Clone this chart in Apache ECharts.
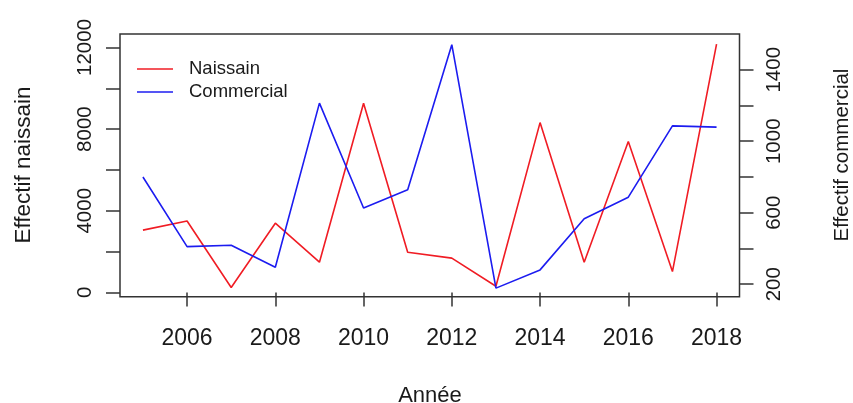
<!DOCTYPE html>
<html>
<head>
<meta charset="utf-8">
<script src="https://cdn.jsdelivr.net/npm/echarts@6/dist/echarts.min.js"></script>
<style>
  html, body { margin: 0; padding: 0; background: #fff; }
  #chart { width: 853px; height: 403px; }
</style>
</head>
<body>
<div id="chart"></div>
<script>
// Years and the two yearly counts
const years = [2005, 2006, 2007, 2008, 2009, 2010, 2011, 2012, 2013, 2014, 2015, 2016, 2017, 2018];
const naissain = [3050, 3500, 240, 3390, 1480, 9270, 1970, 1680, 300, 8320, 1480, 7390, 1020, 12160];
const commercial = [800, 410, 418, 295, 1213, 626, 728, 1540, 178, 280, 566, 687, 1086, 1079];

// Tick positions and labelled values
const xTicks = [2006, 2008, 2010, 2012, 2014, 2016, 2018];
const leftTicks = [0, 2000, 4000, 6000, 8000, 10000, 12000];
const leftLabels = [0, 4000, 8000, 12000];
const rightTicks = [200, 400, 600, 800, 1000, 1200, 1400];
const rightLabels = [200, 600, 1000, 1400];

const ink = '#1a1a1a';
const frame = '#333';
const font = 'Liberation Sans, Arial, sans-serif';
const plain = v => String(v);

const pairs = vals => years.map((y, i) => [y, vals[i]]);

const chart = echarts.init(document.getElementById('chart'), null, { renderer: 'canvas' });

chart.setOption({
  animation: false,
  backgroundColor: '#fff',
  textStyle: { fontFamily: font },
  grid: {
    left: 120, top: 34, width: 619.5, height: 262.7,
    show: true, borderColor: frame, borderWidth: 1.5, backgroundColor: 'transparent'
  },
  legend: {
    orient: 'vertical',
    left: 137, top: 59, padding: 0,
    icon: 'rect',
    itemWidth: 36, itemHeight: 1.6, itemGap: 3,
    textStyle: { fontSize: 18.5, lineHeight: 20, color: ink, fontFamily: font, padding: [0, 0, 0, 11] },
    data: ['Naissain', 'Commercial']
  },
  xAxis: {
    type: 'value',
    min: 2004.48, max: 2018.52,
    axisLine: { show: false },
    splitLine: { show: false },
    axisTick: { show: true, length: 14, lineStyle: { color: frame, width: 1.5 }, customValues: xTicks },
    axisLabel: { customValues: xTicks, formatter: plain, fontSize: 23, color: ink, fontFamily: font, margin: 30 }
  },
  yAxis: [
    {
      type: 'value', position: 'left',
      min: -210, max: 12660,
      axisLine: { show: false },
      splitLine: { show: false },
      axisTick: { show: true, length: 14, lineStyle: { color: frame, width: 1.5 }, customValues: leftTicks },
      axisLabel: { customValues: leftLabels, formatter: plain, rotate: 90, fontSize: 20.5, color: ink, fontFamily: font, margin: 24 }
    },
    {
      type: 'value', position: 'right',
      min: 130, max: 1600,
      axisLine: { show: false },
      splitLine: { show: false },
      axisTick: { show: true, length: 14, lineStyle: { color: frame, width: 1.5 }, customValues: rightTicks },
      axisLabel: { customValues: rightLabels, formatter: plain, rotate: 90, fontSize: 20.5, color: ink, fontFamily: font, margin: 24 }
    }
  ],
  graphic: [
    {
      type: 'text', x: 430, y: 396,
      style: { text: 'Année', fontSize: 22, fill: ink, fontFamily: font, align: 'center', verticalAlign: 'middle' }
    },
    {
      type: 'text', x: 24, y: 165, rotation: Math.PI / 2,
      style: { text: 'Effectif naissain', fontSize: 22.5, fill: ink, fontFamily: font, align: 'center', verticalAlign: 'middle' }
    },
    {
      type: 'text', x: 842, y: 155, rotation: Math.PI / 2,
      style: { text: 'Effectif commercial', fontSize: 20.5, fill: ink, fontFamily: font, align: 'center', verticalAlign: 'middle' }
    }
  ],
  series: [
    {
      name: 'Naissain', type: 'line', yAxisIndex: 0,
      data: pairs(naissain),
      symbol: 'none',
      lineStyle: { color: '#f01c24', width: 1.6 },
      itemStyle: { color: '#f01c24' }
    },
    {
      name: 'Commercial', type: 'line', yAxisIndex: 1,
      data: pairs(commercial),
      symbol: 'none',
      lineStyle: { color: '#1c1cf0', width: 1.6 },
      itemStyle: { color: '#1c1cf0' }
    }
  ]
});
</script>
</body>
</html>
